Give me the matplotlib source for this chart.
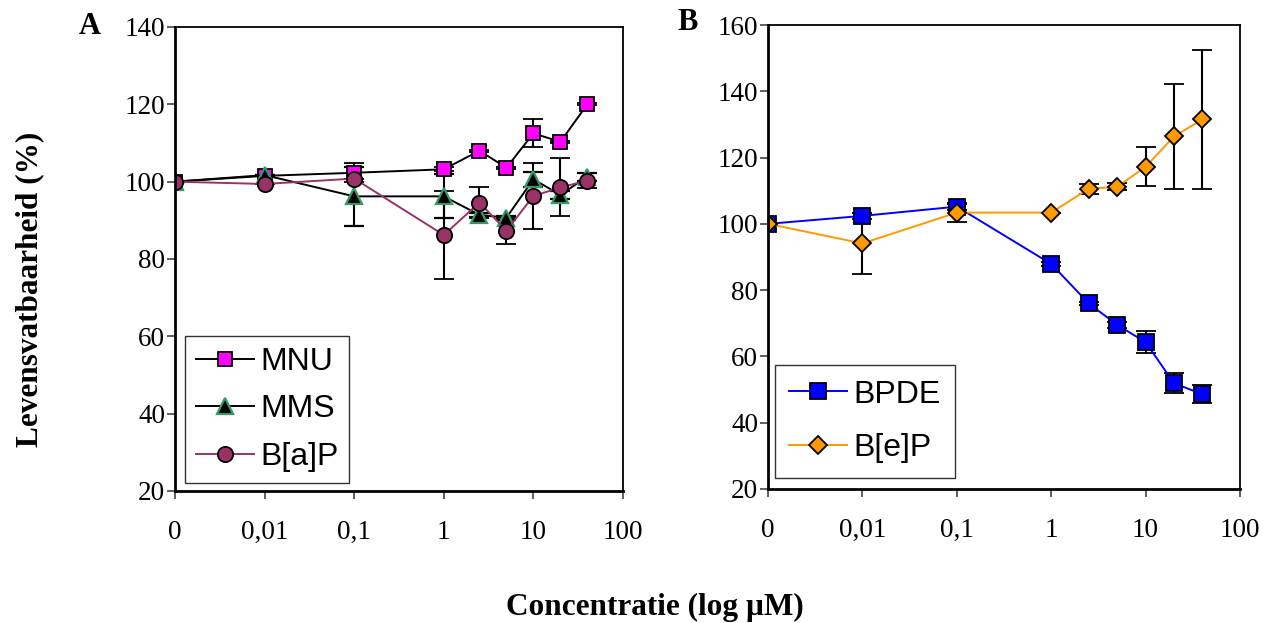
import numpy as np
import matplotlib
matplotlib.use("Agg")
import matplotlib.pyplot as plt

# concentrations in uM (0 = control, shown at the "0" tick)
conc = [0, 0.01, 0.1, 1, 2.5, 5, 10, 20, 40]

# panel A
mnu = [100, 101.5, 102.3, 103.2, 108, 103.6, 112.5, 110.3, 120]
mnu_err = [0, 0, 2.5, 0.5, 0.3, 0.3, 3.6, 0.3, 0.3]
mms = [100, 101.7, 96.2, 96.2, 91.4, 90.7, 100.6, 96.6, 101.3]
mms_err = [0, 0, 7.7, 5.7, 0.5, 0.5, 2, 1, 1]
bap = [100, 99.4, 100.8, 86.2, 94.6, 87.3, 96.3, 98.5, 100.3]
bap_err = [0, 0, 0, 11.5, 4.1, 3.4, 8.5, 7.5, 2]

# panel B
bpde = [100, 102.4, 105.2, 87.9, 76, 69.5, 64.3, 51.9, 48.6]
bpde_err = [0, 1, 1, 0.5, 0.5, 0.8, 3.3, 3, 2.8]
bep = [100, 94.1, 103.4, 103.4, 110.6, 111.2, 117.2, 126.4, 131.5]
bep_err = [0, 9.2, 2.7, 0, 1.5, 1, 5.9, 15.8, 21]

tick_vals = [0, 0.01, 0.1, 1, 10, 100]
tick_labels = ["0", "0,01", "0,1", "1", "10", "100"]

serif = "Liberation Serif"
sans = "Liberation Sans"


def xpos(c):
    # the control (0) sits one decade left of 0.01
    c = np.asarray(c, dtype=float)
    return np.where(c == 0, 1e-3, c)


def style_axes(ax, ylim, yticks):
    ax.set_xscale("log")
    ax.set_xlim(1e-3, 100)
    ax.set_ylim(*ylim)
    ax.set_xticks(xpos(tick_vals))
    ax.set_xticklabels(tick_labels)
    ax.minorticks_off()
    ax.set_yticks(yticks)
    ax.tick_params(axis="both", direction="out", length=6, width=1.2,
                   labelsize=19.5, color="#444444")
    ax.tick_params(axis="x", pad=15)
    ax.tick_params(axis="y", pad=1)
    for lab in ax.get_xticklabels() + ax.get_yticklabels():
        lab.set_fontfamily(serif)
    for side in ["left", "bottom"]:
        ax.spines[side].set_linewidth(2)
    for side in ["top", "right"]:
        ax.spines[side].set_linewidth(1.3)


def series(ax, y, err, label, marker, ms, face, edge, line, mew=1.3):
    ax.errorbar(xpos(conc), y, yerr=err, label=label, color=line, lw=1.4,
                marker=marker, ms=ms, mfc=face, mec=edge, mew=mew,
                ecolor="black", elinewidth=1.5, capsize=7, capthick=1.5)


def add_legend(ax, anchor, spacing, bpad):
    handles, labels = ax.get_legend_handles_labels()
    handles = [h[0] for h in handles]
    leg = ax.legend(handles, labels, loc="lower left", bbox_to_anchor=anchor,
                    borderaxespad=0, fancybox=False, framealpha=1,
                    edgecolor="#333333", handlelength=1.8, handletextpad=0.2,
                    labelspacing=spacing, borderpad=bpad,
                    prop={"family": sans, "size": 23})
    leg.get_frame().set_linewidth(1.0)


fig = plt.figure(figsize=(12.8, 6.23), dpi=100)
axA = fig.add_axes([175/1280, 1-491/623, 448/1280, 464/623])
axB = fig.add_axes([768/1280, 1-489/623, 472/1280, 464/623])

series(axA, mnu, mnu_err, "MNU", "s", 10, "#FF00FF", "black", "black")
series(axA, mms, mms_err, "MMS", "^", 12, "black", "#339966", "black", mew=1.6)
series(axA, bap, bap_err, "B[a]P", "o", 11, "#993366", "black", "#993366")
style_axes(axA, (20, 140), range(20, 141, 20))
add_legend(axA, (0.022, 0.017), 0.55, 0.35)

series(axB, bpde, bpde_err, "BPDE", "s", 11, "#0000FF", "black", "#0000FF")
series(axB, bep, bep_err, "B[e]P", "D", 9.5, "#FF9900", "black", "#FF9900")
style_axes(axB, (20, 160), range(20, 161, 20))
add_legend(axB, (0.015, 0.024), 0.75, 0.45)

fig.text(90/1280, 1-27/623, "A", fontfamily=serif, fontweight="bold",
         fontsize=22, ha="center", va="center")
fig.text(688/1280, 1-22/623, "B", fontfamily=serif, fontweight="bold",
         fontsize=22, ha="center", va="center")
fig.text(30/1280, 1-289/623, "Levensvatbaarheid (%)", fontfamily=serif,
         fontweight="bold", fontsize=22.5, rotation=90, ha="center", va="center")
fig.text(655/1280, 1-607/623, "Concentratie (log µM)", fontfamily=serif,
         fontweight="bold", fontsize=22.5, ha="center", va="center")

fig.savefig("out.png", dpi=100)
